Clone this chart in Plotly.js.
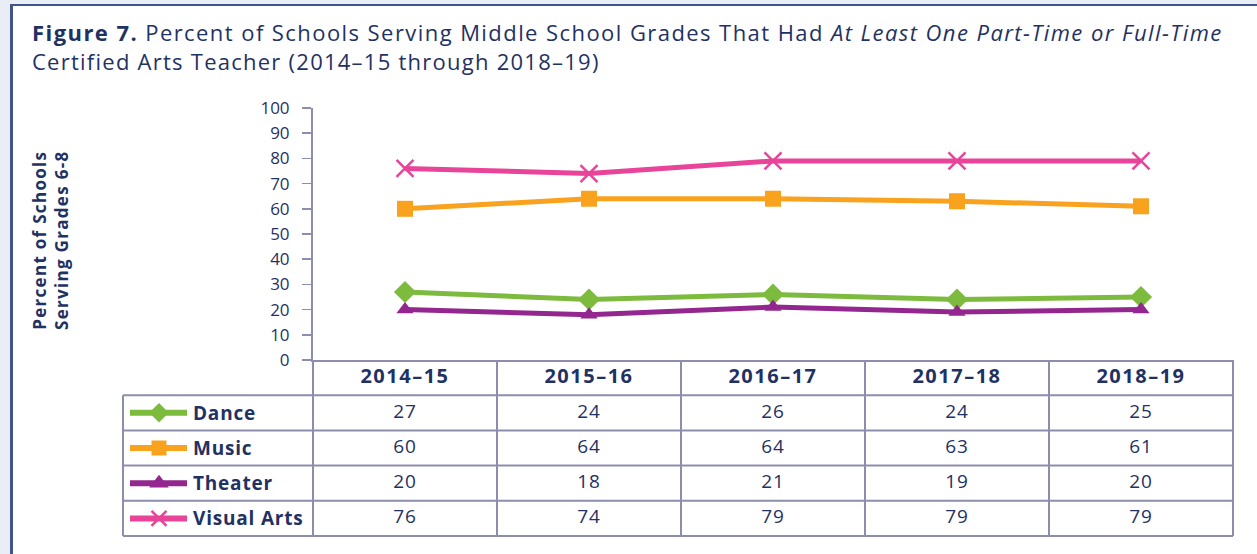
<!DOCTYPE html>
<html>
<head>
<meta charset="utf-8">
<script src="https://cdn.plot.ly/plotly-3.0.1.min.js"></script>
<style>
  html, body { margin: 0; padding: 0; background: #e8edf6; width: 1257px; height: 554px; overflow: hidden; }
  #panel { position: absolute; left: 10px; top: 4px; width: 1300px; height: 600px; background: #ffffff;
           border-left: 3px solid #42548a; border-top: 2px solid #42548a; }
  #chart { position: absolute; left: 0; top: 0; width: 1257px; height: 554px; }
</style>
</head>
<body>
<div id="panel"></div>
<div id="chart"></div>
<script>
// ---- data ----
const categories = ['2014–15', '2015–16', '2016–17', '2017–18', '2018–19'];
const seriesNames = ['Dance', 'Music', 'Theater', 'Visual Arts'];
const dance = [27, 24, 26, 24, 25];
const music = [60, 64, 64, 63, 61];
const theater = [20, 18, 21, 19, 20];
const visualArts = [76, 74, 79, 79, 79];
const yTickValues = [0, 10, 20, 30, 40, 50, 60, 70, 80, 90, 100];

// ---- styles ----
const navy = '#1f3263';
const gridCol = '#8d8dae';
const font = '"Open Sans", "Noto Sans", sans-serif';
const seriesValues = [dance, music, theater, visualArts];
const seriesStyle = [
  { color: '#7dbb3f', symbol: 'diamond', size: 17, keySize: 15, lw: 0 },
  { color: '#f8a21e', symbol: 'square', size: 16, keySize: 15, lw: 0 },
  { color: '#93278f', symbol: 'triangle-up', size: 15, keySize: 17, lw: 0 },
  { color: '#e8449a', symbol: 'x-thin', size: 17, keySize: 15, lw: 2.5 }
];
const sp = (t, ls) => '<span style="letter-spacing:' + ls + 'px">' + t + '</span>';

// ---- geometry ----
const W = 1257, H = 554;
const M = { l: 123, r: 24, t: 108, b: 18 };
const PW = W - M.l - M.r, PH = H - M.t - M.b;
const px2x = p => (p - M.l) / PW;
const px2y = p => (H - M.b - p) / PH;
const plotLeft = 313, plotRight = 1233, plotBottom = 360, tableBottom = 536;
const xDom = [px2x(plotLeft), px2x(plotRight)];
const yMainDom = [px2y(plotBottom), 1];
const yTabDom = [0, px2y(plotBottom)];
const nRows = seriesNames.length + 1;
function px2xk(p) { return (p - M.l) / (plotLeft - M.l); }

const traces = [];
// main lines
seriesValues.forEach((vals, i) => {
  const s = seriesStyle[i];
  traces.push({
    type: 'scatter', mode: 'lines+markers', x: categories, y: vals, xaxis: 'x', yaxis: 'y',
    name: seriesNames[i], showlegend: false, cliponaxis: false,
    line: { color: s.color, width: 5 },
    marker: { symbol: s.symbol, size: s.size, color: s.color, line: { color: s.color, width: s.lw } },
    hoverinfo: 'x+y+name'
  });
});
// table header
traces.push({
  type: 'scatter', mode: 'text', x: categories, y: categories.map(() => 0.5),
  xaxis: 'x2', yaxis: 'y2', showlegend: false, hoverinfo: 'skip',
  text: categories.map(c => '<b>' + sp(c, 1.5) + '</b>'),
  textfont: { family: font, size: 20, color: navy }
});
// table values
seriesValues.forEach((vals, i) => {
  traces.push({
    type: 'scatter', mode: 'text', x: categories, y: categories.map(() => i + 1.5),
    xaxis: 'x2', yaxis: 'y2', showlegend: false, hoverinfo: 'skip',
    text: vals.map(v => sp(String(v), 0.8)),
    textfont: { family: font, size: 19, color: navy }
  });
});
// legend keys in first column
const keyL = px2xk(130), keyR = px2xk(187), keyM = px2xk(159);
seriesValues.forEach((vals, i) => {
  const s = seriesStyle[i];
  traces.push({
    type: 'scatter', mode: 'lines', x: [keyL, keyR], y: [i + 1.5, i + 1.5],
    xaxis: 'x3', yaxis: 'y2', showlegend: false, hoverinfo: 'skip',
    line: { color: s.color, width: 6 }
  });
  traces.push({
    type: 'scatter', mode: 'markers', x: [keyM], y: [i + 1.5],
    xaxis: 'x3', yaxis: 'y2', showlegend: false, hoverinfo: 'skip', cliponaxis: false,
    marker: { symbol: s.symbol, size: s.keySize, color: s.color, line: { color: s.color, width: s.lw } }
  });
});

const annotations = seriesNames.map((n, i) => ({
  xref: 'x3', yref: 'y2', x: px2xk(191), y: i + 1.5, xanchor: 'left', yanchor: 'middle',
  text: '<b>' + sp(n, 0.8) + '</b>', showarrow: false, font: { family: font, size: 19, color: navy }
}));
annotations.push({
  xref: 'paper', yref: 'paper', x: px2x(51), y: px2y(241), xanchor: 'center', yanchor: 'middle',
  textangle: -90, showarrow: false, align: 'center',
  text: '<b>' + sp('Percent of Schools', 1.3) + '<br>' + sp('Serving Grades 6-8', 1.3) + '</b>',
  font: { family: font, size: 17, color: navy }
});

// table grid shapes
const shapes = [];
const rowH = (tableBottom - plotBottom) / nRows;
for (let r = 1; r <= nRows; r++) {
  const yy = px2y(plotBottom + r * rowH);
  shapes.push({ type: 'line', xref: 'paper', yref: 'paper', x0: px2x(123), x1: px2x(plotRight), y0: yy, y1: yy,
    line: { color: gridCol, width: 2 } });
}
shapes.push({ type: 'line', xref: 'paper', yref: 'paper', x0: px2x(123), x1: px2x(123),
  y0: px2y(plotBottom + rowH), y1: px2y(tableBottom), line: { color: gridCol, width: 2 } });
const colW = (plotRight - plotLeft) / categories.length;
for (let c = 0; c <= categories.length; c++) {
  const xx = px2x(plotLeft + c * colW);
  shapes.push({ type: 'line', xref: 'paper', yref: 'paper', x0: xx, x1: xx, y0: px2y(plotBottom), y1: px2y(tableBottom),
    line: { color: gridCol, width: 2 } });
}

const titleL2 = 'Certified Arts Teacher (2014–15 through 2018–19)';

const layout = {
  width: W, height: H, margin: M,
  paper_bgcolor: 'rgba(0,0,0,0)', plot_bgcolor: 'rgba(0,0,0,0)',
  font: { family: font, color: navy },
  title: {
    text: sp('<b>Figure 7.</b> Percent of Schools Serving Middle School Grades That Had ', 1.43) +
          '<i>' + sp('At Least One Part-Time or Full-Time', 1.43) + '</i><br>' + sp(titleL2, 1.25),
    xref: 'container', yref: 'container', x: 32 / W, xanchor: 'left', y: 1 - 41 / H, yanchor: 'top',
    font: { family: font, size: 22, color: navy }
  },
  xaxis: { domain: xDom, anchor: 'y', type: 'category', range: [-0.5, 4.5], showticklabels: false, ticks: '',
    showline: true, linecolor: gridCol, linewidth: 2, showgrid: false, zeroline: false, fixedrange: true },
  yaxis: { domain: yMainDom, anchor: 'x', range: [0, 100], tickvals: yTickValues, ticks: 'outside', ticklen: 9,
    tickcolor: gridCol, tickwidth: 1.5, showline: true, linecolor: gridCol, linewidth: 2, showgrid: false, zeroline: false,
    tickfont: { family: font, size: 17, color: navy }, ticklabelstandoff: 9, fixedrange: true },
  xaxis2: { domain: xDom, anchor: 'y2', type: 'category', range: [-0.5, 4.5], visible: false, fixedrange: true },
  yaxis2: { domain: yTabDom, anchor: 'x2', range: [nRows, 0], visible: false, fixedrange: true },
  xaxis3: { domain: [0, xDom[0]], anchor: 'y2', range: [0, 1], visible: false, fixedrange: true },
  annotations: annotations,
  shapes: shapes,
  showlegend: false
};

Plotly.newPlot('chart', traces, layout, { displayModeBar: false, staticPlot: true });
</script>
</body>
</html>
